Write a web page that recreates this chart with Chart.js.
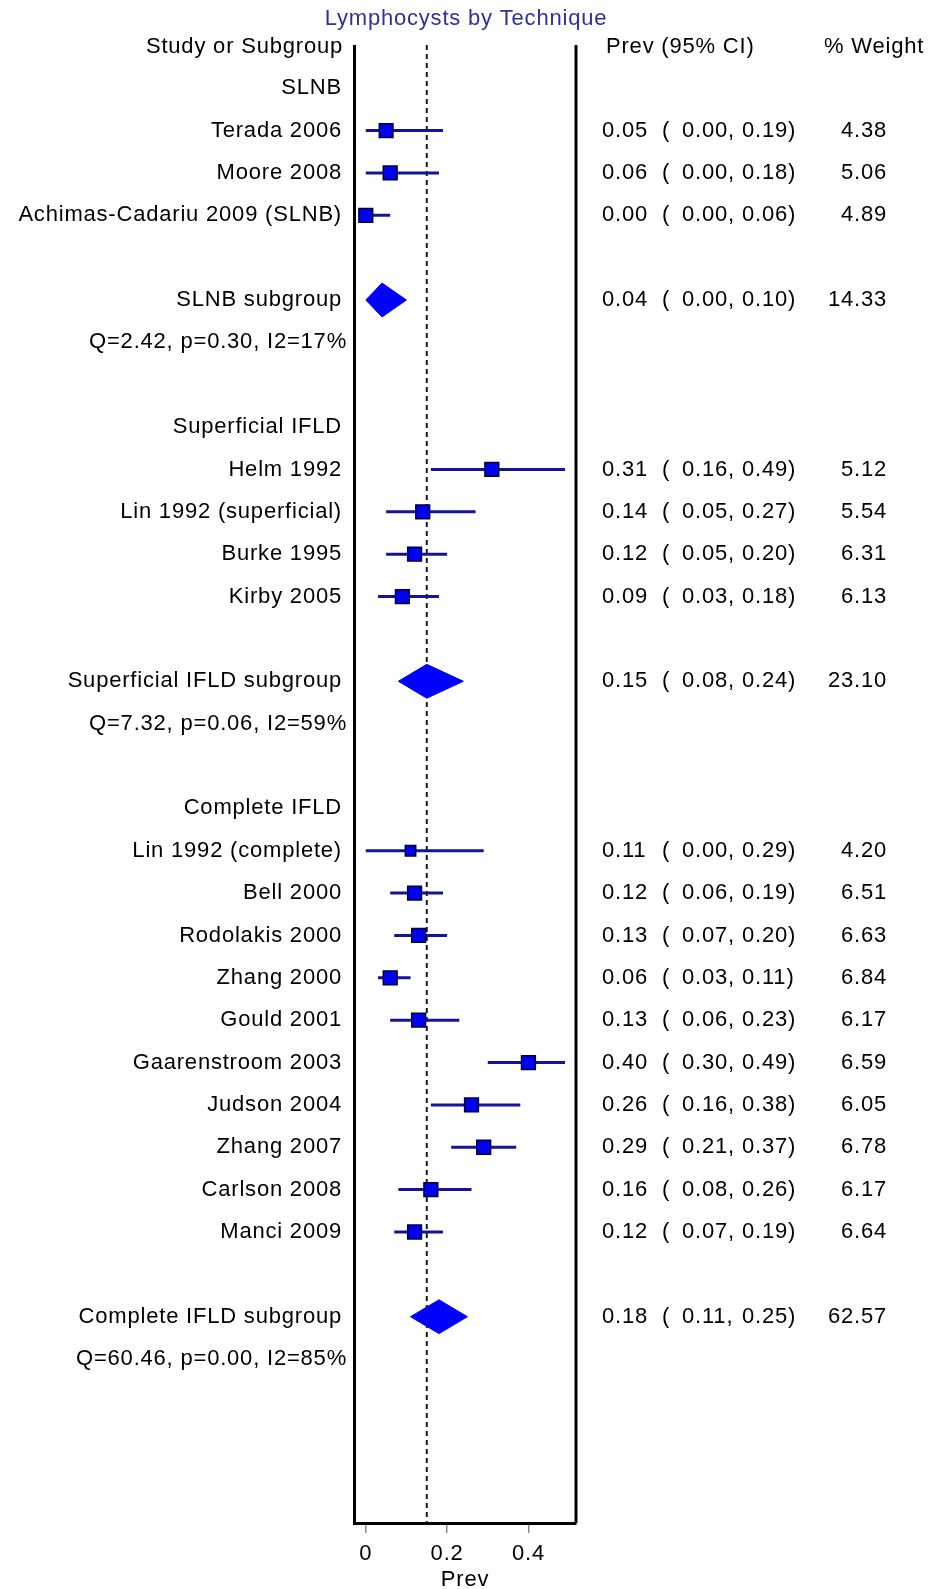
<!DOCTYPE html>
<html>
<head>
<meta charset="utf-8">
<title>Lymphocysts by Technique</title>
<script src="https://cdn.jsdelivr.net/npm/chart.js@4.4.1/dist/chart.umd.min.js"></script>
<style>
html, body { margin: 0; padding: 0; background: #ffffff; }
#wrap { width: 932px; height: 1589px; }
canvas { display: block; }
</style>
</head>
<body>
<div id="wrap"><canvas id="c" width="932" height="1589"></canvas></div>
<script>
// ---------------- data ----------------
const chartTitle = "Lymphocysts by Technique";
const headerStudy = "Study or Subgroup";
const headerPrev = "Prev (95% CI)";
const headerWeight = "% Weight";
const axisTitle = "Prev";
const xTickValues = [0, 0.2, 0.4];
const xTickLabels = ["0", "0.2", "0.4"];
const overallPrev = 0.15;

const groupNames = ["SLNB", "Superficial IFLD", "Complete IFLD"];
const groupRows = [1, 9, 18];

const studyNames = [
  "Terada 2006", "Moore 2008", "Achimas-Cadariu 2009 (SLNB)",
  "Helm 1992", "Lin 1992 (superficial)", "Burke 1995", "Kirby 2005",
  "Lin 1992 (complete)", "Bell 2000", "Rodolakis 2000", "Zhang 2000",
  "Gould 2001", "Gaarenstroom 2003", "Judson 2004", "Zhang 2007",
  "Carlson 2008", "Manci 2009"
];
const studyRows = [2, 3, 4, 10, 11, 12, 13, 19, 20, 21, 22, 23, 24, 25, 26, 27, 28];
const studyPrev = [0.05, 0.06, 0.00, 0.31, 0.14, 0.12, 0.09, 0.11, 0.12, 0.13, 0.06, 0.13, 0.40, 0.26, 0.29, 0.16, 0.12];
const studyLower = [0.00, 0.00, 0.00, 0.16, 0.05, 0.05, 0.03, 0.00, 0.06, 0.07, 0.03, 0.06, 0.30, 0.16, 0.21, 0.08, 0.07];
const studyUpper = [0.19, 0.18, 0.06, 0.49, 0.27, 0.20, 0.18, 0.29, 0.19, 0.20, 0.11, 0.23, 0.49, 0.38, 0.37, 0.26, 0.19];
const studyWeight = [4.38, 5.06, 4.89, 5.12, 5.54, 6.31, 6.13, 4.20, 6.51, 6.63, 6.84, 6.17, 6.59, 6.05, 6.78, 6.17, 6.64];

const subgroupNames = ["SLNB subgroup", "Superficial IFLD subgroup", "Complete IFLD subgroup"];
const subgroupRows = [6, 15, 30];
const subgroupPrev = [0.04, 0.15, 0.18];
const subgroupLower = [0.00, 0.08, 0.11];
const subgroupUpper = [0.10, 0.24, 0.25];
const subgroupWeight = [14.33, 23.10, 62.57];

const hetStats = ["Q=2.42, p=0.30, I2=17%", "Q=7.32, p=0.06, I2=59%", "Q=60.46, p=0.00, I2=85%"];
const hetRows = [7, 16, 31];

// ---------------- style ----------------
const FONT_FAMILY = '"Liberation Sans", Arial, sans-serif';
const FONT_SIZE = 22;
const LETTER_SPACING = '0.8px';
const LINE_COLOR = '#14149b';
const SQUARE_COLOR = '#0000f2';
const SQUARE_BORDER = '#000038';
const DIAMOND_COLOR = '#0000ff';
const DIAMOND_HALF = 0.4;

function squareSide(w) { return Math.min(13.8, 10.4 + (w - 4.2) * 18); }

// ---------------- datasets built from the arrays ----------------
const ciData = [];
studyRows.forEach((r, i) => {
  ciData.push({ x: studyLower[i], y: r });
  ciData.push({ x: studyUpper[i], y: r });
  ciData.push({ x: NaN, y: r });
});

const squareData = studyRows.map((r, i) => ({ x: studyPrev[i], y: r }));

const diamondSets = subgroupRows.map((r, i) => ({
  type: 'line',
  data: [
    { x: subgroupLower[i], y: r },
    { x: subgroupPrev[i], y: r - DIAMOND_HALF },
    { x: subgroupUpper[i], y: r },
    { x: subgroupPrev[i], y: r + DIAMOND_HALF },
    { x: subgroupLower[i], y: r }
  ],
  borderColor: DIAMOND_COLOR,
  backgroundColor: DIAMOND_COLOR,
  borderWidth: 1,
  pointRadius: 0,
  tension: 0,
  fill: 'shape',
  order: 0
}));

const fmt = v => v.toFixed(2);

const sidePlugin = {
  id: 'forestSide',
  beforeDraw(chart) {
    try { chart.ctx.letterSpacing = LETTER_SPACING; } catch (e) {}
  },
  beforeDatasetsDraw(chart) {
    const { ctx, chartArea, scales } = chart;
    const x = scales.x.getPixelForValue(overallPrev);
    ctx.save();
    ctx.strokeStyle = '#1a1a1a';
    ctx.lineWidth = 2;
    ctx.setLineDash([5, 4]);
    ctx.beginPath();
    ctx.moveTo(x, chartArea.top);
    ctx.lineTo(x, chartArea.bottom);
    ctx.stroke();
    ctx.restore();
  },
  afterDatasetsDraw(chart) {
    const { ctx, chartArea, scales } = chart;
    const ys = v => scales.y.getPixelForValue(v);
    ctx.save();
    // box sides
    ctx.strokeStyle = '#000';
    ctx.lineWidth = 3;
    ctx.beginPath();
    ctx.moveTo(chartArea.left + 0.5, chartArea.top);
    ctx.lineTo(chartArea.left + 0.5, chartArea.bottom);
    ctx.moveTo(chartArea.right, chartArea.top);
    ctx.lineTo(chartArea.right, chartArea.bottom);
    ctx.stroke();

    ctx.font = FONT_SIZE + 'px ' + FONT_FAMILY;
    try { ctx.letterSpacing = LETTER_SPACING; } catch (e) {}
    ctx.fillStyle = '#000';
    ctx.textBaseline = 'middle';
    const LABEL_RIGHT = 342, HET_RIGHT = 347;
    const EST_X = 602, PAREN_X = 662, LO_X = 682, HI_X = 742, W_RIGHT = 887;
    const put = (s, x, y, a) => { ctx.textAlign = a; ctx.fillText(s, x, y); };

    // headers
    const hy = ys(0) + 1;
    put(headerStudy, 343, hy, 'right');
    put(headerPrev, 606, hy, 'left');
    put(headerWeight, 824, hy, 'left');

    groupNames.forEach((g, i) => put(g, LABEL_RIGHT, ys(groupRows[i]), 'right'));

    const row = (name, r, est, lo, hi, w) => {
      const y = ys(r);
      put(name, LABEL_RIGHT, y, 'right');
      put(fmt(est), EST_X, y, 'left');
      put('(', PAREN_X, y, 'left');
      put(fmt(lo) + ',', LO_X, y, 'left');
      put(fmt(hi) + ')', HI_X, y, 'left');
      put(fmt(w), W_RIGHT, y, 'right');
    };
    studyNames.forEach((n, i) => row(n, studyRows[i], studyPrev[i], studyLower[i], studyUpper[i], studyWeight[i]));
    subgroupNames.forEach((n, i) => row(n, subgroupRows[i], subgroupPrev[i], subgroupLower[i], subgroupUpper[i], subgroupWeight[i]));
    hetStats.forEach((h, i) => put(h, HET_RIGHT, ys(hetRows[i]), 'right'));
    ctx.restore();
  }
};

const hiddenAxis = (pos, width) => ({
  type: 'linear',
  position: pos,
  reverse: true,
  min: -0.02,
  max: 34.87,
  display: true,
  ticks: { display: false },
  grid: { display: false },
  border: { display: false },
  afterFit: s => { s.width = width; }
});

new Chart(document.getElementById('c'), {
  type: 'scatter',
  data: {
    datasets: [
      {
        type: 'scatter',
        data: squareData,
        pointStyle: 'rect',
        pointRadius: ctx => squareSide(studyWeight[ctx.dataIndex]) / Math.SQRT2,
        backgroundColor: SQUARE_COLOR,
        borderColor: SQUARE_BORDER,
        borderWidth: 1.5,
        order: 0
      },
      ...diamondSets,
      {
        type: 'line',
        data: ciData,
        borderColor: LINE_COLOR,
        borderWidth: 3,
        borderCapStyle: 'butt',
        pointRadius: 0,
        spanGaps: false,
        fill: false,
        order: 1
      }
    ]
  },
  options: {
    responsive: false,
    devicePixelRatio: 1,
    animation: false,
    events: [],
    layout: { padding: 0 },
    plugins: {
      legend: { display: false },
      tooltip: { enabled: false },
      title: {
        display: true,
        text: chartTitle,
        color: '#2f2fa2',
        font: { family: FONT_FAMILY, size: FONT_SIZE, weight: 'normal', lineHeight: 1.2 },
        padding: { top: 6, bottom: 12.6 }
      }
    },
    scales: {
      x: {
        type: 'linear',
        min: -0.029,
        max: 0.517,
        afterBuildTicks: s => { s.ticks = xTickValues.map(v => ({ value: v })); },
        afterFit: s => { s.height = 66; },
        ticks: {
          callback: (v) => { const k = xTickValues.indexOf(v); return k >= 0 ? xTickLabels[k] : ''; },
          color: '#000',
          font: { family: FONT_FAMILY, size: FONT_SIZE },
          padding: 8,
          maxRotation: 0
        },
        grid: { drawOnChartArea: false, drawTicks: true, tickLength: 10, color: '#8a8a8a', lineWidth: 1.5 },
        border: { display: true, color: '#000', width: 3 },
        title: {
          display: true,
          text: axisTitle,
          color: '#000',
          font: { family: FONT_FAMILY, size: FONT_SIZE },
          padding: { top: 0, bottom: -4 }
        }
      },
      y: hiddenAxis('left', 354),
      y2: hiddenAxis('right', 356)
    }
  },
  plugins: [sidePlugin]
});
</script>
</body>
</html>
